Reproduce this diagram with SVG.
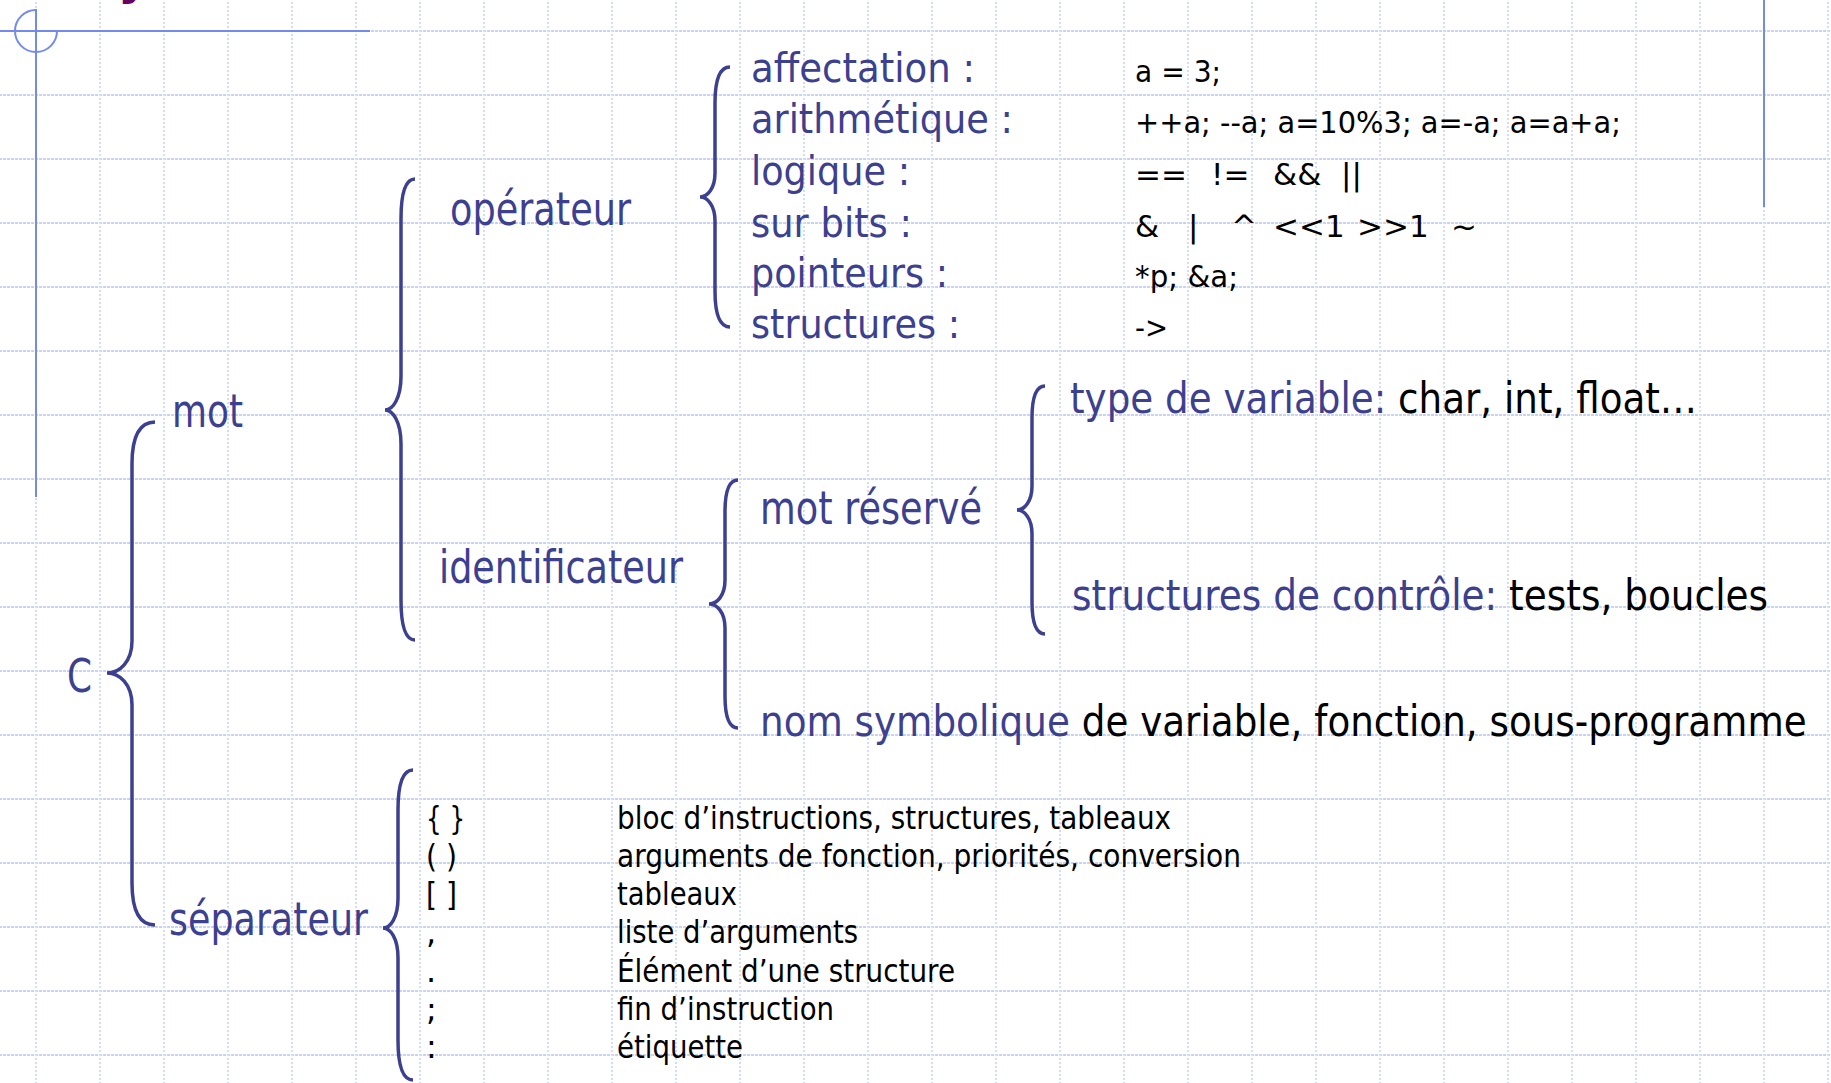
<svg xmlns="http://www.w3.org/2000/svg" width="1831" height="1083" viewBox="0 0 1831 1083">
  <defs>
    <!-- squared-paper background: one 64px cell with dotted top and left edges -->
    <pattern id="grid" patternUnits="userSpaceOnUse" x="35" y="30" width="64" height="64">
      <line x1="0" y1="1" x2="64" y2="1" stroke="#c6d2f6" stroke-width="2" stroke-dasharray="3 1"/>
      <line x1="1" y1="0" x2="1" y2="64" stroke="#d2dcf8" stroke-width="2" stroke-dasharray="2 2"/>
    </pattern>
    <style>
      .lbl { font-family: "DejaVu Sans", "Liberation Sans", sans-serif; }
      .blue { fill: #3c408f; }
      .ink { fill: #000000; }
      .main { font-size: 46px; }
      .ops { font-size: 41px; }
      .sub { font-size: 42px; }
      .code { font-size: 31px; }
      .sep { font-size: 32px; }
      .brace { fill: none; stroke: #3c408f; stroke-width: 3.5; stroke-linecap: butt; }
      .frame { fill: none; stroke: #7389ee; stroke-width: 2; }
    </style>
  </defs>

  <rect width="1831" height="1083" fill="#ffffff"/>
  <rect width="1831" height="1083" fill="url(#grid)"/>

  <!-- slide frame ornaments -->
  <g id="frame">
    <line class="frame" x1="0" y1="31" x2="370" y2="31"/>
    <line class="frame" x1="36" y1="9" x2="36" y2="497"/>
    <path class="frame" d="M36,10 A21,21 0 1 0 57,31"/>
    <line class="frame" x1="1764" y1="0" x2="1764" y2="207"/>
    <text class="lbl" x="118" y="-6" font-size="48" font-weight="bold" fill="#660066">y</text>
  </g>

  <!-- braces linking each term to its subdivisions -->
  <g id="connectors">
    <path id="brace-c" class="brace" d="M155,422 C138.9,422 132,436.7 132,464 L132,641 C132,661.8 119.5,673 107,673 C119.5,673 132,684.2 132,705 L132,883 C132,910.3 138.9,925 155,925"/>
    <path id="brace-mot" class="brace" d="M415,179 C405.2,179 401,193 401,219 L401,376 C401,397.9 393,410 385,410 C393,410 401,422.1 401,444 L401,600 C401,626 405.2,640 415,640"/>
    <path id="brace-operateur" class="brace" d="M730,67 C719.5,67 715,79.6 715,103 L715,173 C715,188.6 707.5,197 700,197 C707.5,197 715,205.4 715,221 L715,291 C715,314.4 719.5,327 730,327"/>
    <path id="brace-identificateur" class="brace" d="M738,480 C728.9,480 725,491.2 725,512 L725,580 C725,595.6 717,604 709,604 C717,604 725,612.4 725,628 L725,696 C725,716.8 728.9,728 738,728"/>
    <path id="brace-mot-reserve" class="brace" d="M1045,386 C1035.9,386 1032,397.2 1032,418 L1032,486 C1032,501.6 1024.5,510 1017,510 C1024.5,510 1032,518.4 1032,534 L1032,602 C1032,622.8 1035.9,634 1045,634"/>
    <path id="brace-separateur" class="brace" d="M413,770 C402.5,770 398,784 398,810 L398,898 C398,917.5 390.5,928 383,928 C390.5,928 398,938.5 398,958 L398,1040 C398,1066 402.5,1080 413,1080"/>
  </g>

  <g id="node-c">
    <text class="lbl blue main" x="67" y="692" textLength="25" lengthAdjust="spacingAndGlyphs">C</text>
  </g>

  <g id="node-mot">
    <text class="lbl blue main" x="172" y="427" textLength="71" lengthAdjust="spacingAndGlyphs">mot</text>
  </g>

  <g id="node-operateur">
    <text class="lbl blue main" x="450" y="225" textLength="181" lengthAdjust="spacingAndGlyphs">opérateur</text>
  </g>

  <g id="node-operator-kinds">
    <text class="lbl blue ops" x="751" y="82" textLength="224" lengthAdjust="spacingAndGlyphs">affectation :</text>
    <text class="lbl blue ops" x="751" y="133" textLength="262" lengthAdjust="spacingAndGlyphs">arithmétique :</text>
    <text class="lbl blue ops" x="751" y="185" textLength="159" lengthAdjust="spacingAndGlyphs">logique :</text>
    <text class="lbl blue ops" x="751" y="237" textLength="161" lengthAdjust="spacingAndGlyphs">sur bits :</text>
    <text class="lbl blue ops" x="751" y="287" textLength="197" lengthAdjust="spacingAndGlyphs">pointeurs :</text>
    <text class="lbl blue ops" x="751" y="338" textLength="209" lengthAdjust="spacingAndGlyphs">structures :</text>
  </g>

  <g id="node-operator-examples">
    <text class="lbl ink code" x="1135" y="82" textLength="86" lengthAdjust="spacingAndGlyphs">a = 3;</text>
    <text class="lbl ink code" x="1135" y="133" textLength="486" lengthAdjust="spacingAndGlyphs">++a; --a; a=10%3; a=-a; a=a+a;</text>
    <text class="lbl ink code" y="185">
      <tspan x="1135">==</tspan><tspan x="1211">!=</tspan><tspan x="1273">&amp;&amp;</tspan><tspan x="1341">||</tspan>
    </text>
    <text class="lbl ink code" y="237">
      <tspan x="1135">&amp;</tspan><tspan x="1188">|</tspan><tspan x="1231">^</tspan><tspan x="1273">&lt;&lt;1</tspan><tspan x="1357">&gt;&gt;1</tspan><tspan x="1451">~</tspan>
    </text>
    <text class="lbl ink code" x="1135" y="287" textLength="103" lengthAdjust="spacingAndGlyphs">*p; &amp;a;</text>
    <text class="lbl ink code" x="1135" y="338" textLength="33" lengthAdjust="spacingAndGlyphs">-&gt;</text>
  </g>

  <g id="node-identificateur">
    <text class="lbl blue main" x="439" y="583" textLength="244" lengthAdjust="spacingAndGlyphs">identificateur</text>
  </g>

  <g id="node-mot-reserve">
    <text class="lbl blue main" x="760" y="524" textLength="222" lengthAdjust="spacingAndGlyphs">mot réservé</text>
  </g>

  <!-- term in blue followed by its examples in black, narrowed to fit the row -->
  <g id="node-type-variable">
    <text class="lbl sub" transform="translate(1070,413) scale(0.887,1)" textLength="707" lengthAdjust="spacingAndGlyphs"><tspan class="blue">type de variable: </tspan><tspan class="ink">char, int, float…</tspan></text>
  </g>

  <g id="node-structures-controle">
    <text class="lbl sub" transform="translate(1072,610) scale(0.889,1)" textLength="783" lengthAdjust="spacingAndGlyphs"><tspan class="blue">structures de contrôle: </tspan><tspan class="ink">tests, boucles</tspan></text>
  </g>

  <g id="node-nom-symbolique">
    <text class="lbl sub" transform="translate(760,736) scale(0.887,1)" textLength="1180" lengthAdjust="spacingAndGlyphs"><tspan class="blue">nom symbolique </tspan><tspan class="ink">de variable, fonction, sous-programme</tspan></text>
  </g>

  <g id="node-separateur">
    <text class="lbl blue main" x="169" y="935" textLength="199" lengthAdjust="spacingAndGlyphs">séparateur</text>
  </g>

  <g id="node-separator-list">
    <text class="lbl ink sep" x="426" y="829" textLength="39" lengthAdjust="spacingAndGlyphs">{ }</text>
    <text class="lbl ink sep" x="426" y="867" textLength="31" lengthAdjust="spacingAndGlyphs">( )</text>
    <text class="lbl ink sep" x="426" y="905" textLength="31" lengthAdjust="spacingAndGlyphs">[ ]</text>
    <text class="lbl ink sep" x="426" y="943">,</text>
    <text class="lbl ink sep" x="426" y="982">.</text>
    <text class="lbl ink sep" x="426" y="1020">;</text>
    <text class="lbl ink sep" x="426" y="1058">:</text>

    <text class="lbl ink sep" x="617" y="829" textLength="554" lengthAdjust="spacingAndGlyphs">bloc d’instructions, structures, tableaux</text>
    <text class="lbl ink sep" x="617" y="867" textLength="624" lengthAdjust="spacingAndGlyphs">arguments de fonction, priorités, conversion</text>
    <text class="lbl ink sep" x="617" y="905" textLength="120" lengthAdjust="spacingAndGlyphs">tableaux</text>
    <text class="lbl ink sep" x="617" y="943" textLength="241" lengthAdjust="spacingAndGlyphs">liste d’arguments</text>
    <text class="lbl ink sep" x="617" y="982" textLength="338" lengthAdjust="spacingAndGlyphs">Élément d’une structure</text>
    <text class="lbl ink sep" x="617" y="1020" textLength="217" lengthAdjust="spacingAndGlyphs">fin d’instruction</text>
    <text class="lbl ink sep" x="617" y="1058" textLength="126" lengthAdjust="spacingAndGlyphs">étiquette</text>
  </g>
</svg>
